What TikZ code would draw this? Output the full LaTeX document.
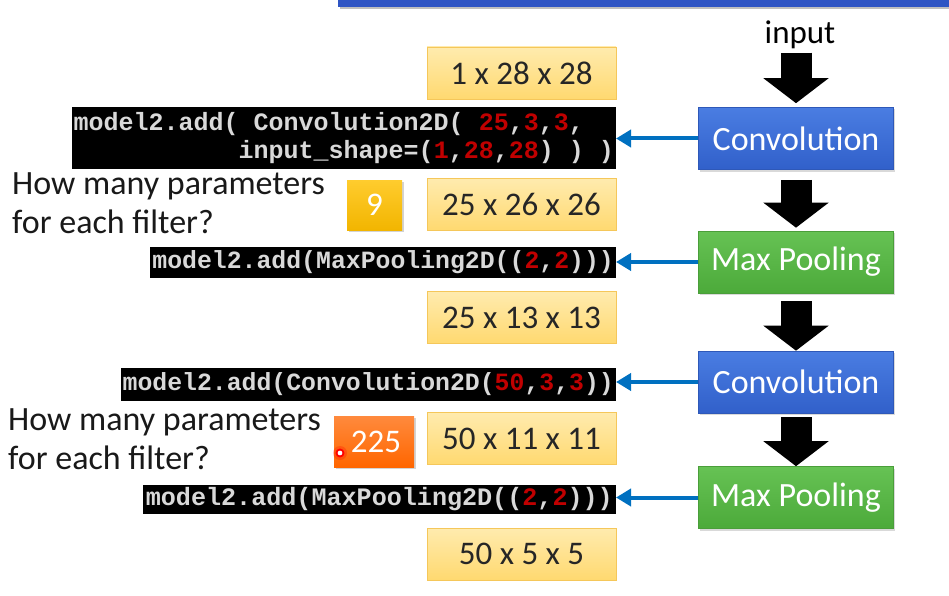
\documentclass[tikz,border=0pt]{standalone}
\usepackage{fontspec}
\setmainfont{Carlito}
\newfontfamily\codefont{Liberation Mono}
\usetikzlibrary{arrows.meta,shadows}
\definecolor{barblue}{HTML}{2F55C4}
\definecolor{convtop}{HTML}{4A7DE2}
\definecolor{convbot}{HTML}{3160CA}
\definecolor{convdraw}{HTML}{2E58B8}
\definecolor{mptop}{HTML}{66C254}
\definecolor{mpbot}{HTML}{4CAA3A}
\definecolor{mpdraw}{HTML}{4A9E3A}
\definecolor{ylwtop}{HTML}{FFEBAE}
\definecolor{ylwbot}{HTML}{FFD970}
\definecolor{ylwdraw}{HTML}{F5C75A}
\definecolor{codegray}{HTML}{D9D9D9}
\definecolor{codered}{HTML}{C00000}
\definecolor{arrowblue}{HTML}{0070C0}
\definecolor{goldtop}{HTML}{FFCC2E}
\definecolor{goldbot}{HTML}{F2B500}
\definecolor{orgtop}{HTML}{FF8A3D}
\definecolor{orgbot}{HTML}{FF6600}
\newcommand\redn[1]{\textcolor{codered}{#1}}
\begin{document}
\begin{tikzpicture}[x=1pt,y=-1pt,
  bigfont/.style={font=\fontsize{33}{39}\selectfont},
  layerbox/.style={font=\fontsize{34}{40}\selectfont, text=white, minimum width=195pt, minimum height=62pt,
    inner sep=0pt, draw=#1draw, line width=0.6pt, top color=#1top, bottom color=#1bot,
    drop shadow={shadow xshift=1.5pt, shadow yshift=-2pt, opacity=0.3}},
  shapebox/.style={bigfont, text=black!85, minimum width=189pt, minimum height=52pt,
    inner sep=0pt, draw=ylwdraw, line width=0.6pt, top color=ylwtop, bottom color=ylwbot},
  codebox/.style={fill=black, text=codegray, anchor=east, inner xsep=2pt, inner ysep=0pt,
    font=\codefont\bfseries\fontsize{24.8}{28}\selectfont, align=left, minimum height=31pt},
  answerbox/.style={text=white, inner sep=0pt, top color=#1top, bottom color=#1bot,
    drop shadow={shadow xshift=1.5pt, shadow yshift=-2pt, opacity=0.35}},
  question/.style={font=\fontsize{34}{39}\selectfont, anchor=base west, align=left, inner sep=0pt, text=black!90},
  blockarrow/.style={line width=31pt, black, -{Triangle[width=64pt,length=25pt]}},
  callarrow/.style={arrowblue, line width=4pt, -{Triangle[width=17pt,length=15pt]}}
]
\useasboundingbox (0,0) rectangle (949,596);
% top bar
\fill[black, opacity=0.25] (340,2) rectangle (949,9.5);
\fill[barblue] (338,0) rectangle (949,7);

% right column
\node[bigfont, anchor=base, inner sep=0pt] (input) at (800,44) {input};
\node[layerbox=conv] (conv1) at (796,138.5) {Convolution};
\node[layerbox=mp] (mp1) at (796,262) {Max Pooling};
\node[layerbox=conv] (conv2) at (796,382) {Convolution};
\node[layerbox=mp] (mp2) at (796,497.5) {Max Pooling};

\draw[blockarrow, shorten <=3pt, shorten >=4pt] (input.south -| conv1.north) -- (conv1.north);
\draw[blockarrow, shorten <=10pt, shorten >=3pt] (conv1.south) -- (mp1.north);
\draw[blockarrow, shorten <=8pt, shorten >=0pt] (mp1.south) -- (conv2.north);
\draw[blockarrow, shorten <=4pt, shorten >=0pt] (conv2.south) -- (mp2.north);

% shape boxes
\node[shapebox] (s1) at (521.5,73) {1 x 28 x 28};
\node[shapebox] (s2) at (521.5,204.5) {25 x 26 x 26};
\node[shapebox] (s3) at (521.5,317.5) {25 x 13 x 13};
\node[shapebox] (s4) at (521.5,438.5) {50 x 11 x 11};
\node[shapebox] (s5) at (521.5,554) {50 x 5 x 5};

% code boxes
\node[codebox, minimum height=62pt, font=\codefont\bfseries\fontsize{25}{28}\selectfont] (code1) at (616,138.5)
  {model2.add( Convolution2D( \redn{25},\redn{3},\redn{3},\\
   \phantom{model2.add(}input\_shape=(\redn{1},\redn{28},\redn{28}) ) )};
\node[codebox] (code2) at (616,262) {model2.add(MaxPooling2D((\redn{2},\redn{2})))};
\node[codebox, minimum height=33pt] (code3) at (616,384.5) {model2.add(Convolution2D(\redn{50},\redn{3},\redn{3}))};
\node[codebox, minimum height=29pt, inner xsep=3pt, font=\codefont\bfseries\fontsize{25.1}{28}\selectfont] (code4) at (616,499.5) {model2.add(MaxPooling2D((\redn{2},\redn{2})))};

\draw[callarrow] (conv1.west) -- (code1.east);
\draw[callarrow] (mp1.west) -- (code2.east |- mp1.west);
\draw[callarrow] (conv2.west) -- (code3.east |- conv2.west);
\draw[callarrow] (mp2.west) -- (code4.east |- mp2.west);

% questions (base anchor = last line)
\node[question] (q1) at (12,233) {How many parameters\\for each filter?};
\node[question] (q2) at (8,469) {How many parameters\\for each filter?};

% answers
\node[answerbox=gold, minimum width=55pt, minimum height=50pt, bigfont] (a1) at (374.5,205) {9};
\node[answerbox=org, minimum width=80pt, minimum height=51pt, bigfont] (a2) at (374,441.5) {\hspace*{4pt}225};

% pointer mark
\fill[red, opacity=0.25] (340,453) circle (7);
\draw[red, line width=1.8pt, fill=white] (340,453) circle (3.5) coordinate (dot);
\end{tikzpicture}
\end{document}
